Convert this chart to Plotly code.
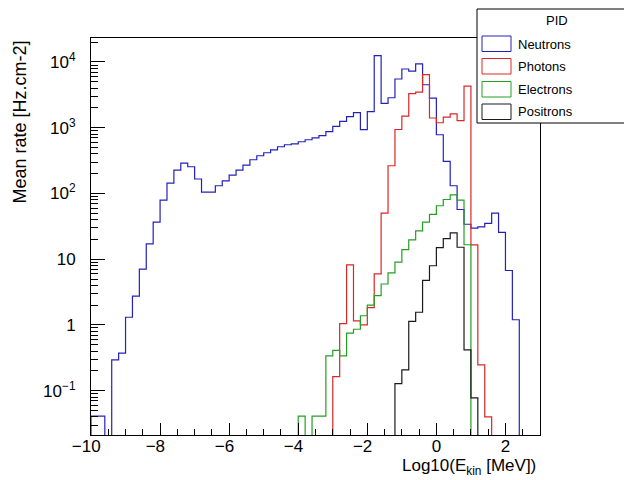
import plotly.graph_objects as go

# ---- data (bin contents, 65 bins of width 0.2 from -10 to 3) ----
x_min, x_max, bin_width = -10.0, 3.0, 0.2

neutrons = [0.041, 0.041, 0, 0.294, 0.372, 1.31, 2.74, 7.07, 17.1, 36.7,
            79.4, 144, 227, 290, 255, 166, 105, 105, 131, 156,
            190, 227, 270, 326, 375, 416, 462, 514, 551, 570,
            612, 656, 700, 760, 875, 1050, 1250, 1480, 1700, 933,
            1760, 12470, 2350, 2860, 5510, 7820, 7250, 9330, 4510, 2830,
            782, 307, 131, 57, 34, 29.7, 31, 35, 50.4, 25.6,
            6.73, 1.2, 0, 0, 0]

photons = [0] * 35 + [0.164, 1.05, 8.2, 1.15, 1.0,
                      1.83, 6.0, 50.4, 264, 940, 1500, 3300, 3490, 6410, 1406,
                      1190, 1445, 1630, 1285, 4300, 16.5, 0.247, 0.040,
                      0, 0, 0, 0, 0, 0, 0]

electrons = [0] * 30 + [0.041, 0, 0.041, 0.041, 0.339, 0.41, 0.339, 0.75, 0.86, 1.38,
                        2.0, 2.8, 4.2, 6.2, 9.0, 14.0, 19.7, 27.0, 36.7, 48.0,
                        65.0, 81.0, 95.0, 79.0, 16.6,
                        0, 0, 0, 0, 0, 0, 0, 0, 0, 0]

positrons = [0] * 44 + [0.128, 0.207, 1.13, 1.56, 4.75, 7.95,
                        15.0, 20.5, 25.2, 15.2, 0.418, 0.078,
                        0, 0, 0, 0, 0, 0, 0, 0, 0]

series_names = ["Neutrons", "Photons", "Electrons", "Positrons"]
series_colors = ["#2222bb", "#dd2626", "#22a022", "#1a1a1a"]

y_tick_vals = [0.1, 1, 10, 100, 1000, 10000]
y_tick_text = ["10<sup>\u22121</sup>", "1", "10", "10<sup>2</sup>", "10<sup>3</sup>", "10<sup>4</sup>"]
x_tick_vals = [-10, -8, -6, -4, -2, 0, 2]
# ROOT centres the digits on the tick, the minus sign hangs to the left
x_tick_text = ["\u221210\u2007", "\u22128\u2007", "\u22126\u2007", "\u22124\u2007", "\u22122\u2007", "0", "2"]

y_log_range = [-1.674, 4.365]

# ---- geometry (screen pixels; the page body has an 8px margin) ----
OFF = 8
W, H = 632 - OFF, 480 - OFF
L, R, T, B = 91 - OFF, 540 - OFF, 38 - OFF, 435 - OFF
PW, PH = R - L, B - T


def px(x):
    return (x - OFF - L) / PW


def py(y):
    return (B - (y - OFF)) / PH


n_bins = int(round((x_max - x_min) / bin_width))
edges = [x_min + bin_width * i for i in range(n_bins + 1)]
floor = 1e-6

fig = go.Figure()
for name, vals, col in zip(series_names, [neutrons, photons, electrons, positrons], series_colors):
    v = [val if val > 0 else floor for val in vals]
    xs = [edges[0]] + edges[:-1] + [edges[-1]]
    ys = [floor] + v + [floor]
    fig.add_trace(go.Scatter(x=xs, y=ys, mode="lines", line=dict(color=col, width=1.2, shape="hv"),
                             name=name, showlegend=False, hoverinfo="skip"))

font_family = "Liberation Sans, Arial, Helvetica, sans-serif"

fig.update_layout(
    width=W, height=H,
    margin=dict(l=L, r=W - R, t=T, b=H - B, pad=0, autoexpand=False),
    paper_bgcolor="white", plot_bgcolor="white",
    font=dict(family=font_family, size=17, color="black"),
    showlegend=False,
)

fig.update_xaxes(
    range=[x_min, x_max], showgrid=False, zeroline=False, automargin=False,
    showline=True, linecolor="black", linewidth=1, mirror=True,
    ticks="inside", ticklen=12, tickwidth=1, tickcolor="black",
    tickvals=x_tick_vals, ticktext=x_tick_text, ticklabelstandoff=-4,
    minor=dict(ticks="inside", ticklen=6, dtick=0.5, tick0=-10, tickcolor="black", showgrid=False),
    tickfont=dict(size=17),
)
fig.update_yaxes(
    type="log", range=y_log_range, showgrid=False, zeroline=False, automargin=False,
    showline=True, linecolor="black", linewidth=1, mirror=True,
    ticks="inside", ticklen=14, tickwidth=1, tickcolor="black",
    tickvals=y_tick_vals, ticktext=y_tick_text, ticklabelstandoff=11,
    minor=dict(ticks="inside", ticklen=7, dtick="D1", tickcolor="black", showgrid=False),
    tickfont=dict(size=17),
)

# axis titles (ROOT style: right/top aligned)
fig.add_annotation(x=px(538), y=py(467), xref="paper", yref="paper",
                   text="Log10(E<sub>kin</sub> [MeV])", showarrow=False,
                   xanchor="right", yanchor="middle", font=dict(size=17))
fig.add_annotation(x=px(20), y=py(39), xref="paper", yref="paper",
                   text="Mean rate [Hz.cm-2]", showarrow=False, textangle=-90,
                   xanchor="center", yanchor="top", font=dict(size=18))

# legend box (ROOT TLegend style)
shapes = [dict(type="rect", xref="paper", yref="paper",
               x0=px(477), x1=px(645), y0=py(123), y1=py(9),
               line=dict(color="black", width=1), fillcolor="white", layer="above")]
entry_tops = [36, 58.5, 81.5, 104]
for (name, col, top) in zip(series_names, series_colors, entry_tops):
    shapes.append(dict(type="rect", xref="paper", yref="paper",
                       x0=px(482), x1=px(511), y0=py(top + 15.5), y1=py(top),
                       line=dict(color=col, width=1), fillcolor="white", layer="above"))
    fig.add_annotation(x=px(516), y=py(top + 8), xref="paper", yref="paper",
                       text=name, showarrow=False, xanchor="left", yanchor="middle",
                       font=dict(size=13))
fig.add_annotation(x=px(557), y=py(21), xref="paper", yref="paper",
                   text="PID", showarrow=False, xanchor="center", yanchor="middle",
                   font=dict(size=13))
fig.update_layout(shapes=shapes)

fig.write_html("out.html")
